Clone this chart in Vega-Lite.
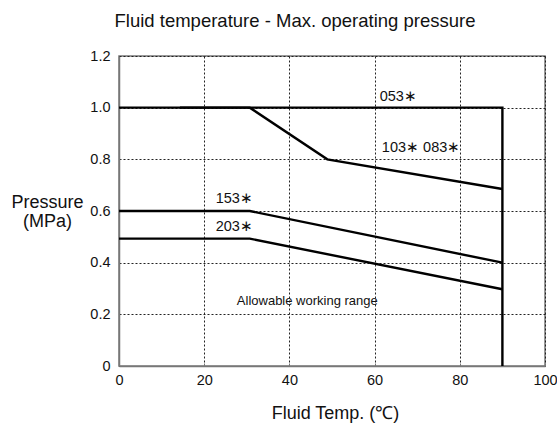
{
  "$schema": "https://vega.github.io/schema/vega-lite/v6.json",
  "autosize": {"type": "none"},
  "padding": {"left": 119, "top": 56, "right": 12, "bottom": 62},
  "width": 426,
  "height": 310,
  "background": "white",
  "title": {
    "text": "Fluid temperature - Max. operating pressure",
    "font": "Liberation Sans",
    "fontSize": 18.5,
    "fontWeight": "normal",
    "color": "#111",
    "anchor": "middle",
    "dx": -37,
    "offset": 18
  },
  "config": {
    "view": {"stroke": "#777", "strokeWidth": 1.5},
    "font": "Liberation Sans"
  },
  "datasets": {
    "lines": [
      {"series": "053", "o": 1, "temp": 0, "p": 1.0},
      {"series": "053", "o": 2, "temp": 90, "p": 1.0},
      {"series": "053", "o": 3, "temp": 90, "p": 0},
      {"series": "103", "o": 1, "temp": 14.3, "p": 1.0},
      {"series": "103", "o": 2, "temp": 30.7, "p": 1.0},
      {"series": "103", "o": 3, "temp": 48.9, "p": 0.8},
      {"series": "103", "o": 4, "temp": 90, "p": 0.685},
      {"series": "153", "o": 1, "temp": 0, "p": 0.6},
      {"series": "153", "o": 2, "temp": 30.7, "p": 0.6},
      {"series": "153", "o": 3, "temp": 90, "p": 0.4},
      {"series": "203", "o": 1, "temp": 0, "p": 0.493},
      {"series": "203", "o": 2, "temp": 30.7, "p": 0.493},
      {"series": "203", "o": 3, "temp": 90, "p": 0.297}
    ],
    "labels": [
      {"label": "053∗", "temp": 61.2, "p": 1.015},
      {"label": "103∗  083∗", "temp": 61.7, "p": 0.815},
      {"label": "153∗", "temp": 22.7, "p": 0.621},
      {"label": "203∗", "temp": 22.7, "p": 0.512}
    ],
    "note": [
      {"label": "Allowable working range", "temp": 44.2, "p": 0.25}
    ]
  },
  "layer": [
    {
      "data": {"name": "lines"},
      "mark": {"type": "line", "color": "black", "strokeWidth": 2.4, "strokeJoin": "miter"},
      "encoding": {
        "x": {
          "field": "temp", "type": "quantitative",
          "scale": {"domain": [0, 100], "nice": false},
          "axis": {
            "values": [0, 20, 40, 60, 80, 100],
            "title": "Fluid Temp. (℃)",
            "titleFont": "Liberation Sans",
            "titleFontSize": 18,
            "titleFontWeight": "normal",
            "titleColor": "#111",
            "titleX": 216,
            "titleY": 47,
            "titleBaseline": "middle",
            "labelFont": "Liberation Sans",
            "labelFontSize": 14.5,
            "labelColor": "#111",
            "labelPadding": 10,
            "labelFlush": false,
            "ticks": true,
            "tickSize": -3,
            "tickColor": "#777",
            "domainColor": "#777",
            "domainWidth": 1.5,
            "grid": true,
            "gridColor": "#222",
            "gridDash": [2, 2],
            "gridWidth": 1
          }
        },
        "y": {
          "field": "p", "type": "quantitative",
          "scale": {"domain": [0, 1.2], "nice": false},
          "axis": {
            "values": [0, 0.2, 0.4, 0.6, 0.8, 1.0, 1.2],
            "labelExpr": "datum.value === 0 ? '0' : format(datum.value, '.1f')",
            "title": ["Pressure", "(MPa)"],
            "titleFont": "Liberation Sans",
            "titleFontSize": 18,
            "titleFontWeight": "normal",
            "titleColor": "#111",
            "titleAngle": 0,
            "titleAlign": "center",
            "titleBaseline": "middle",
            "titleLineHeight": 19,
            "titleX": -72,
            "titleY": 146,
            "labelFont": "Liberation Sans",
            "labelFontSize": 14.5,
            "labelColor": "#111",
            "labelPadding": 9,
            "labelFlush": false,
            "ticks": false,
            "domainColor": "#777",
            "domainWidth": 1.5,
            "grid": true,
            "gridColor": "#222",
            "gridDash": [2, 2],
            "gridWidth": 1
          }
        },
        "detail": {"field": "series"},
        "order": {"field": "o", "type": "quantitative"}
      }
    },
    {
      "data": {"name": "labels"},
      "mark": {"type": "text", "align": "left", "baseline": "bottom", "fontSize": 14.5, "color": "#111", "font": "Liberation Sans"},
      "encoding": {
        "x": {"field": "temp", "type": "quantitative"},
        "y": {"field": "p", "type": "quantitative"},
        "text": {"field": "label"}
      }
    },
    {
      "data": {"name": "note"},
      "mark": {"type": "text", "align": "center", "baseline": "middle", "fontSize": 13, "color": "#111", "font": "Liberation Sans"},
      "encoding": {
        "x": {"field": "temp", "type": "quantitative"},
        "y": {"field": "p", "type": "quantitative"},
        "text": {"field": "label"}
      }
    }
  ]
}
